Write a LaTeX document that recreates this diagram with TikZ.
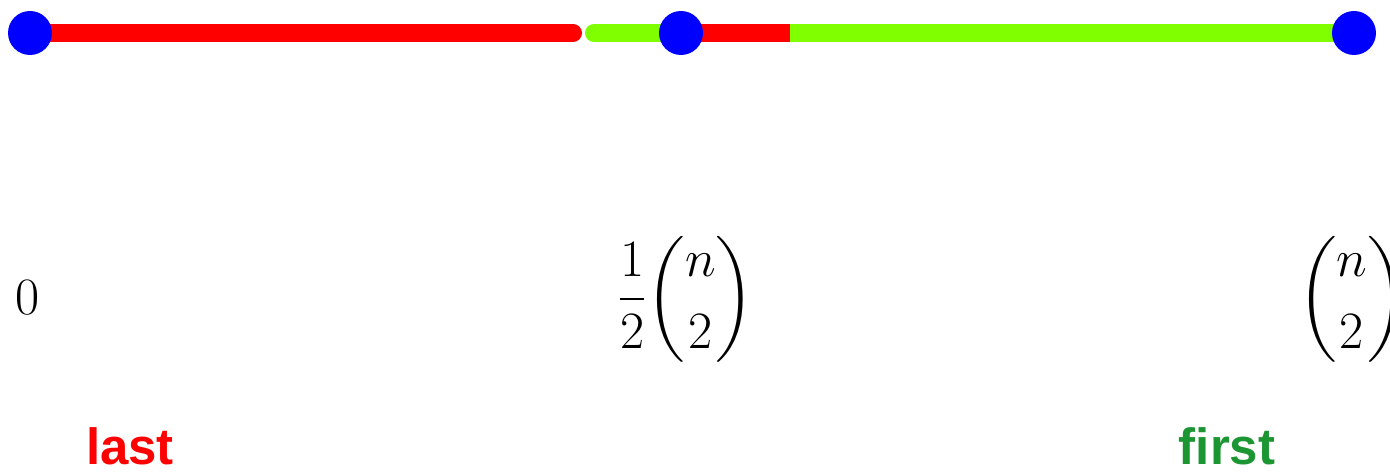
\documentclass[tikz,border=0pt]{standalone}
\usepackage{amsmath}
\usepackage{fontspec}
\newfontfamily\labelfont{Liberation Sans}
\usetikzlibrary{backgrounds}
\definecolor{dotblue}{RGB}{0,0,255}
\definecolor{segred}{RGB}{255,0,0}
\definecolor{seggreen}{RGB}{127,255,0}
\definecolor{tagred}{RGB}{255,0,0}
\definecolor{taggreen}{RGB}{28,150,50}
\tikzset{
  dot/.style={circle,fill=dotblue,inner sep=0pt,minimum size=8.8mm},
  seg/.style={line width=3.6mm,draw=#1},
  seg/.default=segred,
  val/.style={font=\Huge,scale=1.2,transform shape,inner sep=0pt},
  tag/.style={font=\labelfont\bfseries\fontsize{29}{33}\selectfont,text=#1,anchor=base,inner sep=0pt},
}
\begin{document}
\begin{tikzpicture}
  \useasboundingbox (0,0) rectangle (27.8,9.48);
  % the three points on the line
  \node[dot] (p0) at (0.6,8.82) {};
  \node[dot] (p1) at (13.62,8.82) {};
  \node[dot] (p2) at (27.08,8.82) {};
  \coordinate (a) at (11.46,8.82);
  \coordinate (b) at (11.88,8.82);
  \coordinate (c) at (15.8,8.82);
  \begin{scope}[on background layer]
    \draw[seg=segred,line cap=round] (p0.center) -- (a);
    \draw[seg=seggreen,line cap=round] (b) -- (p1.center);
    \draw[seg=segred] (p1.center) -- (c);
    \draw[seg=seggreen] (c) -- (p2.center);
  \end{scope}
  % values under the points
  \node[val] (v0) at (0.56,3.52) {$0$};
  \node[val] (v1) at (13.72,3.5) {$\dfrac{1}{2}\dbinom{n}{2}$};
  \node[val] (v2) at (27.04,3.5) {$\dbinom{n}{2}$};
  \node[tag=tagred] (last) at (2.6,0.18) {last};
  \node[tag=taggreen] (first) at (24.54,0.18) {first};
\end{tikzpicture}
\end{document}
